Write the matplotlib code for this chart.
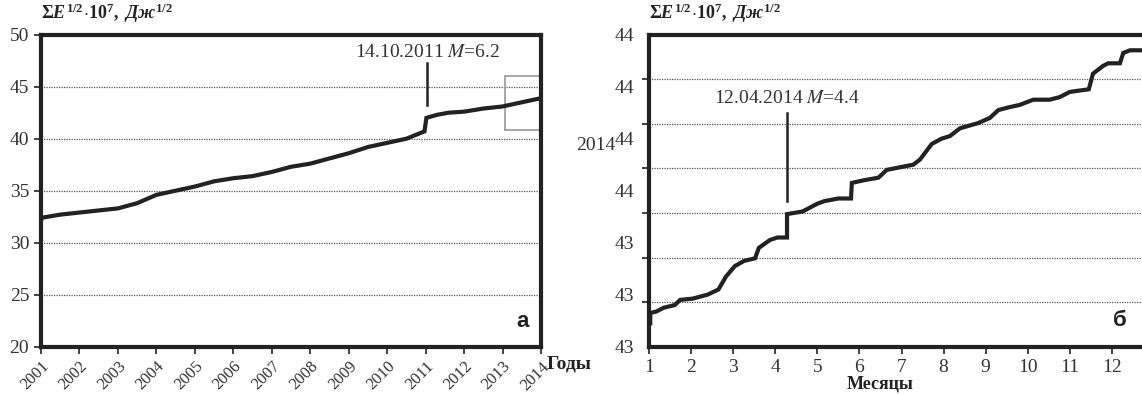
import matplotlib.pyplot as plt
import numpy as np

# ---- data: panel a (cumulative sum by years) ----
years_a = [2001.00, 2001.02, 2001.50, 2002.00, 2002.50, 2003.00, 2003.50, 2004.00,
           2004.50, 2005.00, 2005.50, 2006.00, 2006.50, 2007.00, 2007.50, 2008.00,
           2008.50, 2009.00, 2009.50, 2010.00, 2010.50, 2010.90, 2010.97, 2011.02,
           2011.30, 2011.60, 2012.00, 2012.50, 2013.00, 2013.50, 2014.00]
values_a = [32.1, 32.4, 32.7, 32.9, 33.1, 33.3, 33.8, 34.6,
            35.0, 35.4, 35.9, 36.2, 36.4, 36.8, 37.3, 37.6,
            38.1, 38.6, 39.2, 39.6, 40.0, 40.6, 40.7, 42.0,
            42.3, 42.5, 42.6, 42.9, 43.1, 43.5, 43.9]
year_ticks = list(range(2001, 2015))
yticks_a = [20, 25, 30, 35, 40, 45, 50]

# ---- data: panel b (2014 by months) ----
months_b = [1.00, 1.03, 1.03, 1.17, 1.35, 1.61, 1.74, 2.04, 2.39, 2.65,
            2.83, 3.04, 3.26, 3.52, 3.61, 3.87, 4.05, 4.28, 4.28, 4.65,
            5.00, 5.17, 5.50, 5.80, 5.82, 6.10, 6.45, 6.65, 6.96, 7.28,
            7.44, 7.72, 7.95, 8.15, 8.39, 8.82, 9.10, 9.30, 9.53, 9.81,
            10.13, 10.52, 10.76, 11.00, 11.45, 11.55, 11.79, 11.91, 12.19, 12.27,
            12.43, 12.75]
values_b = [42.99, 42.99, 43.03, 43.035, 43.05, 43.06, 43.08, 43.085, 43.10, 43.12,
            43.17, 43.21, 43.23, 43.24, 43.28, 43.31, 43.32, 43.32, 43.41, 43.42,
            43.45, 43.46, 43.47, 43.47, 43.53, 43.54, 43.55, 43.58, 43.59, 43.60,
            43.62, 43.68, 43.70, 43.71, 43.74, 43.76, 43.78, 43.81, 43.82, 43.83,
            43.85, 43.85, 43.86, 43.88, 43.89, 43.95, 43.98, 43.99, 43.99, 44.03,
            44.04, 44.04]
month_ticks = list(range(1, 13))
ylabel_pos_b = [42.9, 43.1, 43.3, 43.5, 43.7, 43.9, 44.1]
ylabel_txt_b = ['43', '43', '43', '44', '44', '44', '44']

plt.rcParams['font.family'] = 'Liberation Serif'
plt.rcParams['mathtext.fontset'] = 'custom'
plt.rcParams['mathtext.rm'] = 'Liberation Serif:bold'
plt.rcParams['mathtext.bf'] = 'Liberation Serif:bold'
plt.rcParams['mathtext.it'] = 'Liberation Serif:italic:bold'

dark = '#222222'
txt = '#333333'
ylab = r'$\Sigma E^{1/2}\!\cdot\! 10^{7},\ Дж^{1/2}$'

fig = plt.figure(figsize=(11.42, 3.94), dpi=100)
W, H = 1142, 394
ax1 = fig.add_axes([41 / W, 47.3 / H, 500 / W, 312 / H])
ax2 = fig.add_axes([649 / W, 47.3 / H, 505 / W, 312 / H])


def frame(ax):
    for s in ax.spines.values():
        s.set_linewidth(3)
        s.set_color(dark)
    ax.tick_params(colors=txt, labelsize=14, width=1.3, length=5, direction='out')


# ---- panel a ----
frame(ax1)
ax1.plot(years_a, values_a, color=dark, lw=3, solid_joinstyle='miter')
ax1.set_xlim(2001, 2014)
ax1.set_ylim(20, 50)
ax1.set_yticks(yticks_a)
ax1.set_xticks(year_ticks)
ax1.set_xticklabels([str(y) for y in year_ticks], rotation=45, ha='right',
                    rotation_mode='anchor', fontsize=12)
for v in yticks_a[1:-1]:
    ax1.axhline(v, color='#555555', lw=0.9, ls=(0, (1, 1)), zorder=0)
ax1.add_patch(plt.Rectangle((2013.07, 40.8), 0.93, 5.25, fill=False,
                            ec='#a0a0a0', lw=1.3, clip_on=False))
ax1.plot([2011.04, 2011.04], [43.25, 47.3], color=dark, lw=1.8)
ax1.text(2011.04, 48.3, r'14.10.2011 $\mathit{M}$=6.2', ha='center', va='center',
         fontsize=14, color=txt, math_fontfamily='stix')
ax1.text(0.975, 0.08, 'а', transform=ax1.transAxes, ha='right', va='center',
         fontsize=16, fontweight='bold', family='Liberation Sans', color=dark)
ax1.text(0.0, 1.03, ylab, transform=ax1.transAxes, ha='left', va='bottom',
         fontsize=13, color=dark)
fig.text(547 / W, 1 - 364 / H, 'Годы', ha='left', va='center', fontsize=14,
         fontweight='bold', color=dark)

# ---- panel b ----
frame(ax2)
ax2.plot(months_b, values_b, color=dark, lw=3, solid_joinstyle='miter')
ax2.set_xlim(1, 13)
ax2.set_ylim(42.9, 44.1)
ax2.set_xticks(month_ticks)
ax2.set_yticks(ylabel_pos_b)
ax2.set_yticklabels(ylabel_txt_b)
ax2.tick_params(axis='y', which='major', length=0, pad=11)
grid_b = np.linspace(42.9, 44.1, 8)
ax2.set_yticks(grid_b, minor=True)
ax2.tick_params(axis='y', which='minor', length=5, width=1.3, color=txt)
for v in grid_b[1:-1]:
    ax2.axhline(v, color='#555555', lw=0.9, ls=(0, (1, 1)), zorder=0)
ax2.plot([4.27, 4.27], [43.46, 43.80], color=dark, lw=1.8)
ax2.text(4.27, 43.855, r'12.04.2014 $\mathit{M}$=4.4', ha='center', va='center',
         fontsize=14, color=txt, math_fontfamily='stix')
ax2.text(12.19, 43.0, 'б', ha='center', va='center',
         fontsize=16, fontweight='bold', family='Liberation Sans', color=dark)
ax2.text(0.0, 1.03, ylab, transform=ax2.transAxes, ha='left', va='bottom',
         fontsize=13, color=dark)
fig.text(880 / W, 1 - 384 / H, 'Месяцы', ha='center', va='center', fontsize=13,
         fontweight='bold', color=dark)
fig.text(615 / W, 1 - 145 / H, '2014', ha='right', va='center', fontsize=14,
         color=txt)

fig.savefig('out.png', dpi=100)
